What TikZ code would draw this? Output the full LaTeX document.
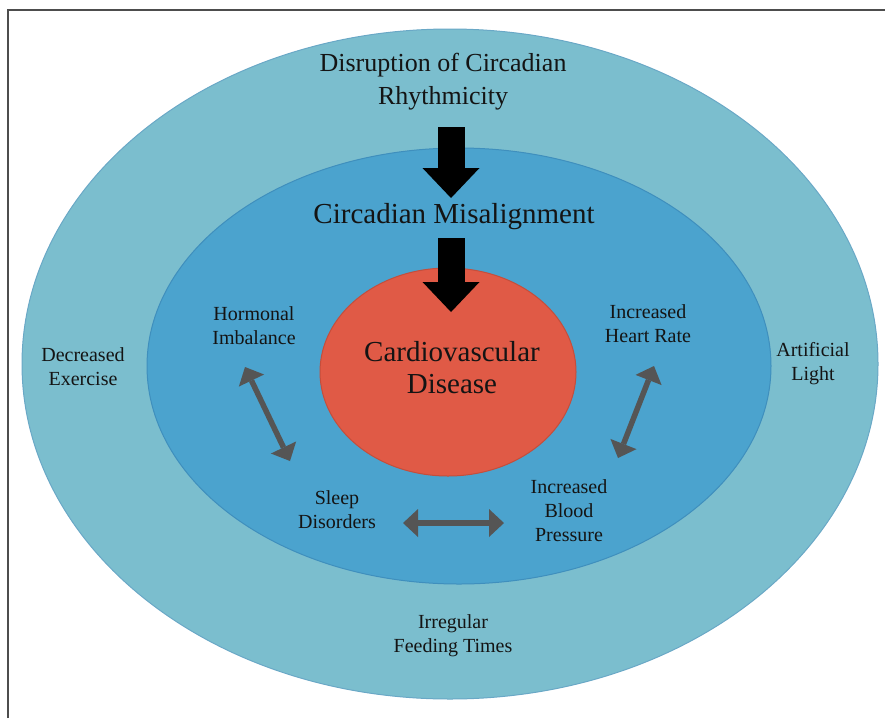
\documentclass[tikz,border=0pt]{standalone}
\usepackage{fontspec}
\setmainfont{Liberation Serif}
\usetikzlibrary{arrows.meta}

\definecolor{framegray}{HTML}{4D4D4D}
\definecolor{outerblue}{HTML}{7BBECE}
\definecolor{outerline}{HTML}{6AA8C6}
\definecolor{midblue}{HTML}{4BA3CE}
\definecolor{midline}{HTML}{3F8FBD}
\definecolor{cvdred}{HTML}{E05A46}
\definecolor{cvdline}{HTML}{C44E3C}
\definecolor{textblack}{HTML}{141414}
\definecolor{linkgray}{HTML}{555555}

\begin{document}
\begin{tikzpicture}[x=1pt,y=-1pt]
\useasboundingbox (0,0) rectangle (885,718);
\draw [framegray, line width=2pt] (8,718) -- (8,10) -- (885,10);

\filldraw [fill=outerblue, draw=outerline, line width=1pt] (450,364) ellipse [x radius=428, y radius=335];
\filldraw [fill=midblue, draw=midline, line width=1pt] (459,366) ellipse [x radius=312, y radius=218];
\filldraw [fill=cvdred, draw=cvdline, line width=1pt] (448,372) ellipse [x radius=128, y radius=104];

\begin{scope}[every node/.style={align=center, text=textblack, font=\fontsize{20}{24}\selectfont}]
    \node [font=\fontsize{26}{33}\selectfont] (disrupt) at (443,82) {Disruption of Circadian\\Rhythmicity};
    \node [font=\fontsize{29}{32}\selectfont] (misalign) at (454,217) {Circadian Misalignment};
    \node [font=\fontsize{29}{32}\selectfont] (cvd) at (452,368) {Cardiovascular\\Disease};
    \node (hormone) at (254,326) {Hormonal\\Imbalance};
    \node (heart) at (648,324) {Increased\\Heart Rate};
    \node (sleep) at (337,510) {Sleep\\Disorders};
    \node (blood) at (569,511) {Increased\\Blood\\Pressure};
    \node (exercise) at (83,367) {Decreased\\Exercise};
    \node (light) at (813,364) {Artificial\\Light};
    \node (feeding) at (453,636) {Irregular\\Feeding Times};
\end{scope}

\coordinate (down1-a) at (451,127);
\coordinate (down1-b) at (451,198);
\coordinate (down2-a) at (451,238);
\coordinate (down2-b) at (451,312);
\coordinate (hs-a) at (245,367);
\coordinate (hs-b) at (290,461);
\coordinate (sb-a) at (403,523);
\coordinate (sb-b) at (504,523);
\coordinate (bh-a) at (618,458);
\coordinate (bh-b) at (654,366);

\begin{scope}[>={Triangle[width=57pt,length=30pt,line width=0pt]},
              every edge/.style={draw=black,line width=27pt}]
    \path [->] (down1-a) edge (down1-b);
    \path [->] (down2-a) edge (down2-b);
\end{scope}

\begin{scope}[>={Triangle[width=28pt,length=15pt,line width=0pt]},
              every edge/.style={draw=linkgray,line width=5.5pt}]
    \path [<->] (hs-a) edge (hs-b);
    \path [<->] (sb-a) edge (sb-b);
    \path [<->] (bh-a) edge (bh-b);
\end{scope}
\end{tikzpicture}
\end{document}
